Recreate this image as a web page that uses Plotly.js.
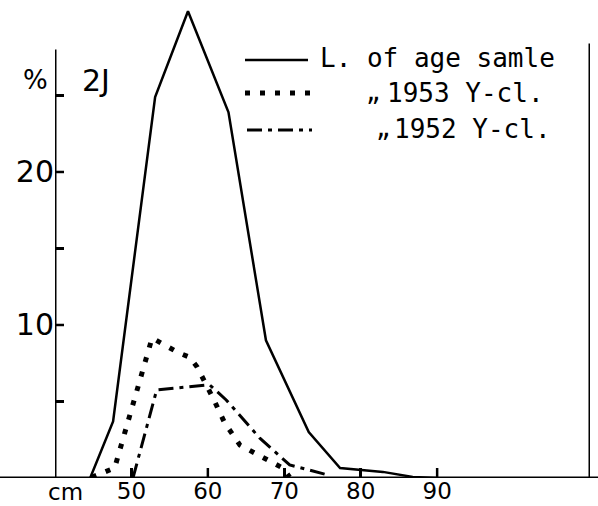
<!DOCTYPE html>
<html><head><meta charset="utf-8">
<script src="https://cdn.plot.ly/plotly-3.0.1.min.js"></script>
<style>html,body{margin:0;padding:0;background:#fff}#chart{width:598px;height:506px}</style>
</head><body><div id="chart"></div>
<script>
// Length distribution (cm) — percentage
const sampleX = [44.6, 47.6, 53.1, 57.4, 62.7, 67.6, 73.2, 77.3, 82.9, 86.8, 89.9];
const sampleY = [0, 3.7, 24.9, 30.5, 23.9, 9.0, 3.0, 0.65, 0.4, 0.07, 0];
const yc1953X = [44.8, 47.8, 52.7, 54.4, 56.1, 57.6, 58.6, 60.7, 62.2, 64.2, 67.2, 69.8, 70.7];
const yc1953Y = [0.05, 0.65, 9.15, 8.7, 8.2, 7.9, 7.25, 5.2, 3.6, 2.15, 1.3, 0.65, 0.05];
const yc1952X = [50.2, 53.3, 60.2, 62.4, 66.8, 70.7, 75.7];
const yc1952Y = [0, 5.75, 6.1, 5.1, 2.6, 0.85, 0.2];
const xTicks = [50, 60, 70, 80, 90];
const yTicks = [5, 10, 15, 20, 25];
const yTickText = ['', '10', '', '20', ''];

const FONT = 'DejaVu Sans, sans-serif';
const MONO = 'DejaVu Sans Mono, monospace';
const traces = [
  {x: sampleX, y: sampleY, mode: 'lines', line: {color: '#000', width: 2.5}, hoverinfo: 'skip'},
  {x: yc1953X, y: yc1953Y, mode: 'lines', line: {color: '#000', width: 5, dash: '5px,10px'}, hoverinfo: 'skip'},
  {x: yc1952X, y: yc1952Y, mode: 'lines', line: {color: '#000', width: 3, dash: '15px,6px,4px,6px'}, hoverinfo: 'skip'}
];

const px = v => (v - 55) / 535;   // helpers for decoration placement only
const py = v => (478 - v) / 478;

const tickShapes = [
  ...xTicks.map(v => ({type: 'line', xref: 'x', yref: 'paper', x0: v, x1: v, y0: 0, y1: 10 / 478, line: {color: '#000', width: 2.5}})),
  ...yTicks.map(v => ({type: 'line', xref: 'paper', yref: 'y', x0: 0, x1: 9 / 535, y0: v, y1: v, line: {color: '#000', width: 2.5}}))
];

const layout = {
  width: 598, height: 506,
  margin: {l: 55, r: 8, t: 0, b: 28},
  paper_bgcolor: '#fff', plot_bgcolor: '#fff',
  showlegend: false,
  xaxis: {range: [40, 110], showgrid: false, zeroline: false, showline: false,
    tickvals: xTicks, ticktext: xTicks.map(String), ticks: 'inside', ticklen: 10, tickwidth: 2.5, tickcolor: '#000',
    ticklabelstandoff: -3,
    tickfont: {family: FONT, size: 23, color: '#000'}},
  yaxis: {range: [0, 31.24], showgrid: false, zeroline: false, showline: false,
    tickvals: yTicks, ticktext: yTickText, ticks: 'inside', ticklen: 9, tickwidth: 2.5, tickcolor: '#000',
    tickfont: {family: FONT, size: 30, color: '#000'}},
  shapes: [
    {type: 'line', xref: 'paper', yref: 'y', x0: -55/535, x1: 1.02, y0: 0, y1: 0, line: {color: '#000', width: 3}},
    {type: 'line', xref: 'x', yref: 'y', x0: 40, x1: 40, y0: 0, y1: 28, line: {color: '#000', width: 3}},
    {type: 'line', xref: 'x', yref: 'y', x0: 110, x1: 110, y0: 0, y1: 28.4, line: {color: '#000', width: 3}},
    ...tickShapes,
    {type: 'line', xref: 'paper', yref: 'paper', x0: px(245), x1: px(308), y0: py(60), y1: py(60), line: {color: '#000', width: 2.5}},
    {type: 'line', xref: 'paper', yref: 'paper', x0: px(245), x1: px(310), y0: py(93), y1: py(93), line: {color: '#000', width: 5, dash: '5px,10px'}},
    {type: 'line', xref: 'paper', yref: 'paper', x0: px(247), x1: px(312), y0: py(130), y1: py(130), line: {color: '#000', width: 3, dash: '15px,6px,4px,6px'}}
  ],
  annotations: [
    {xref: 'paper', yref: 'paper', x: px(65), y: py(492), text: 'cm', showarrow: false, xanchor: 'center', yanchor: 'middle', font: {family: FONT, size: 23, color: '#000'}},
    {xref: 'paper', yref: 'paper', x: px(50), y: py(80), text: '%', showarrow: false, xanchor: 'right', yanchor: 'middle', font: {family: FONT, size: 26, color: '#000'}},
    {xref: 'paper', yref: 'paper', x: px(80), y: py(81), text: '2J', showarrow: false, xanchor: 'left', yanchor: 'middle', font: {family: FONT, size: 30, color: '#000'}},
    {xref: 'paper', yref: 'paper', x: px(318), y: py(58), text: 'L. of age samle', showarrow: false, xanchor: 'left', yanchor: 'middle', font: {family: MONO, size: 26, color: '#000'}},
    {xref: 'paper', yref: 'paper', x: px(364), y: py(93), text: '\u201e', showarrow: false, xanchor: 'left', yanchor: 'middle', font: {family: MONO, size: 24, color: '#000'}},
    {xref: 'paper', yref: 'paper', x: px(385), y: py(93), text: '1953 Y-cl.', showarrow: false, xanchor: 'left', yanchor: 'middle', font: {family: MONO, size: 26, color: '#000'}},
    {xref: 'paper', yref: 'paper', x: px(374), y: py(129), text: '\u201e', showarrow: false, xanchor: 'left', yanchor: 'middle', font: {family: MONO, size: 24, color: '#000'}},
    {xref: 'paper', yref: 'paper', x: px(392), y: py(129), text: '1952 Y-cl.', showarrow: false, xanchor: 'left', yanchor: 'middle', font: {family: MONO, size: 26, color: '#000'}}
  ]
};
Plotly.newPlot('chart', traces, layout, {staticPlot: true, displayModeBar: false});
</script></body></html>
